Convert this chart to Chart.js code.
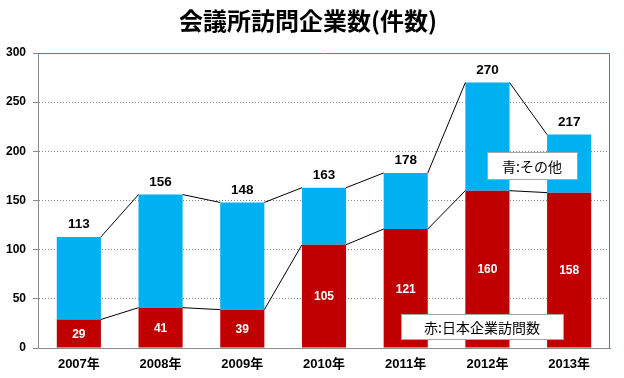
<!DOCTYPE html>
<html>
<head>
<meta charset="utf-8">
<script src="https://cdn.jsdelivr.net/npm/chart.js@4/dist/chart.umd.min.js"></script>
<style>
html,body{margin:0;padding:0;background:#fff;}
canvas{display:block;}
</style>
</head>
<body>
<canvas id="c" width="624" height="378"></canvas>
<script>
const titleText = '会議所訪問企業数(件数)';
const categories = ['2007年','2008年','2009年','2010年','2011年','2012年','2013年'];
const japanCompanies = [29, 41, 39, 105, 121, 160, 158];
const totals = [113, 156, 148, 163, 178, 270, 217];
const others = [84, 115, 109, 58, 57, 110, 59];
const yTicks = [0, 50, 100, 150, 200, 250, 300];
const noteBlue = '青:その他';
const noteRed = '赤:日本企業訪問数';

const RED = '#C00000';
const BLUE = '#00B0F0';
const LATIN = '"Liberation Sans", Arial, "Noto Sans CJK JP", sans-serif';
const CJK = '"Noto Sans CJK JP", "Liberation Sans", sans-serif';

const decor = {
  id: 'decor',
  afterDraw(chart) {
    const ctx = chart.ctx;
    const a = chart.chartArea;
    ctx.save();
    // plot frame top/right
    ctx.strokeStyle = '#5b7b98';
    ctx.lineWidth = 1;
    ctx.beginPath();
    ctx.moveTo(a.left, a.top + 0.5);
    ctx.lineTo(a.right - 0.5, a.top + 0.5);
    ctx.lineTo(a.right - 0.5, a.bottom);
    ctx.stroke();
    // title
    ctx.fillStyle = '#000';
    ctx.font = 'bold 24px ' + CJK;
    ctx.textAlign = 'center';
    ctx.textBaseline = 'middle';
    ctx.fillText(titleText, 308, 21);
    // note boxes
    const drawBox = (x, y, w, h, text) => {
      ctx.fillStyle = '#fff';
      ctx.fillRect(x, y, w, h);
      ctx.strokeStyle = '#a6a6a6';
      ctx.lineWidth = 1;
      ctx.strokeRect(x + 0.5, y + 0.5, w, h);
      ctx.fillStyle = '#000';
      ctx.font = '14px ' + CJK;
      ctx.textAlign = 'center';
      ctx.textBaseline = 'middle';
      ctx.fillText(text, x + w / 2, y + h / 2 + 1);
    };
    drawBox(487, 152, 90, 27, noteBlue);
    drawBox(401, 314, 162, 25, noteRed);
    ctx.restore();
  },
  afterDatasetsDraw(chart) {
    const ctx = chart.ctx;
    ctx.save();
    // connecting lines
    ctx.strokeStyle = '#000';
    ctx.lineWidth = 1;
    [0, 1].forEach(di => {
      const els = chart.getDatasetMeta(di).data;
      for (let i = 0; i < els.length - 1; i++) {
        const p = els[i], q = els[i + 1];
        ctx.beginPath();
        ctx.moveTo(p.x + p.width / 2, p.y);
        ctx.lineTo(q.x - q.width / 2, q.y);
        ctx.stroke();
      }
    });
    // labels
    ctx.textAlign = 'center';
    ctx.textBaseline = 'middle';
    const redEls = chart.getDatasetMeta(0).data;
    const blueEls = chart.getDatasetMeta(1).data;
    ctx.font = 'bold 12px ' + LATIN;
    ctx.fillStyle = '#fff';
    redEls.forEach((e, i) => {
      ctx.fillText(String(japanCompanies[i]), e.x, (e.y + e.base) / 2 + 1);
    });
    ctx.font = 'bold 13.5px ' + LATIN;
    ctx.fillStyle = '#000';
    blueEls.forEach((e, i) => {
      ctx.fillText(String(totals[i]), e.x, e.y - 12.5);
    });
    ctx.restore();
  }
};

new Chart(document.getElementById('c'), {
  type: 'bar',
  data: {
    labels: categories,
    datasets: [
      { label: '日本企業訪問数', data: japanCompanies, backgroundColor: RED, barPercentage: 0.54, categoryPercentage: 1.0 },
      { label: 'その他', data: others, backgroundColor: BLUE, barPercentage: 0.54, categoryPercentage: 1.0 }
    ]
  },
  options: {
    responsive: false,
    animation: false,
    layout: { padding: { left: 0, right: 14, top: 53, bottom: 0 } },
    plugins: { legend: { display: false }, tooltip: { enabled: false }, title: { display: false } },
    scales: {
      x: {
        stacked: true,
        grid: { display: false, drawTicks: false },
        border: { display: true, color: '#8c8c8c', width: 1 },
        ticks: { color: '#000', font: { family: LATIN, size: 13, weight: 'bold' }, padding: 9 },
        afterFit(s) { s.height = 30; }
      },
      y: {
        stacked: true,
        min: 0, max: 300,
        afterBuildTicks(s) { s.ticks = yTicks.map(v => ({ value: v })); },
        grid: {
          color: c => (c.tick && (c.tick.value === 0 || c.tick.value === 300)) ? 'rgba(0,0,0,0)' : '#8c8c8c',
          lineWidth: 1,
          tickLength: 5,
          tickColor: '#8c8c8c'
        },
        border: { display: true, color: '#8c8c8c', width: 1, dash: [1, 2] },
        ticks: { color: '#000', font: { family: LATIN, size: 12, weight: 'bold' }, padding: 7 },
        afterFit(s) { s.width = 38; }
      }
    }
  },
  plugins: [decor]
});
</script>
</body>
</html>
